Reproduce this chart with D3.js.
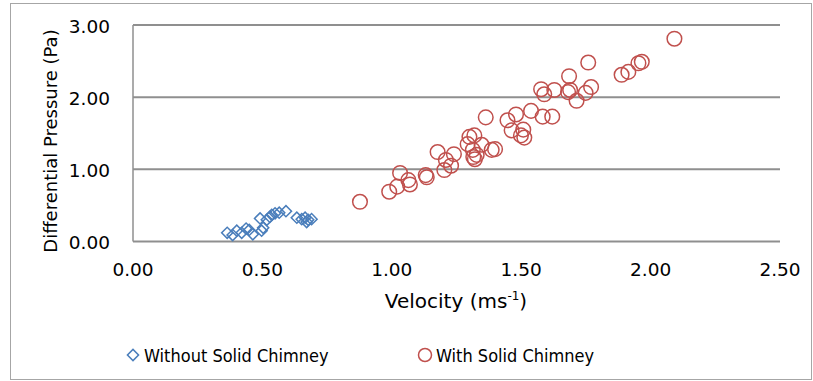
<!DOCTYPE html>
<html>
<head>
<meta charset="utf-8">
<script src="https://cdn.jsdelivr.net/npm/d3@7"></script>
<style>
  body { margin: 0; background: #fff; }
  svg text { font-family: "DejaVu Sans", Verdana, sans-serif; fill: #000; }
</style>
</head>
<body>
<div id="chart-body"></div>
<script>
'use strict';

// series: without solid chimney (blue diamonds)
var withoutVel = [0.364, 0.385, 0.401, 0.420, 0.437, 0.449, 0.463, 0.497, 0.503, 0.491, 0.517,
  0.529, 0.536, 0.549, 0.565, 0.591, 0.633, 0.652, 0.665, 0.677, 0.690, 0.671];
var withoutDP = [0.12, 0.09, 0.15, 0.12, 0.18, 0.16, 0.10, 0.15, 0.19, 0.32, 0.30,
  0.34, 0.37, 0.39, 0.40, 0.42, 0.33, 0.31, 0.33, 0.30, 0.31, 0.27];

// series: with solid chimney (red circles)
var withVel = [0.877, 0.990, 1.021, 1.032, 1.064, 1.070, 1.131, 1.135, 1.177, 1.203, 1.209,
  1.229, 1.240, 1.293, 1.300, 1.319, 1.313, 1.315, 1.321, 1.328, 1.347, 1.363, 1.386, 1.399,
  1.447, 1.463, 1.480, 1.499, 1.508, 1.512, 1.538, 1.577, 1.589, 1.583, 1.620, 1.628, 1.685,
  1.689, 1.681, 1.714, 1.749, 1.770, 1.759, 1.888, 1.914, 1.953, 1.966, 2.092];
var withDP = [0.55, 0.69, 0.76, 0.95, 0.85, 0.79, 0.92, 0.89, 1.24, 0.99, 1.13,
  1.05, 1.21, 1.35, 1.45, 1.47, 1.27, 1.17, 1.14, 1.20, 1.34, 1.72, 1.27, 1.28,
  1.68, 1.54, 1.76, 1.47, 1.55, 1.44, 1.81, 2.11, 2.04, 1.73, 1.73, 2.10, 2.29,
  2.10, 2.07, 1.95, 2.06, 2.14, 2.48, 2.31, 2.35, 2.47, 2.49, 2.81];

var xTicks = [0, 0.5, 1, 1.5, 2, 2.5];
var yTicks = [0, 1, 2, 3];
var seriesNames = ["Without Solid Chimney", "With Solid Chimney"];

var blue = "#4a7ebb", red = "#c0504d", grid = "#8f8f8f";
var W = 813, H = 381;
var margin = { top: 25, right: 33, bottom: 139.5, left: 133 };

var svg = d3.select("#chart-body").append("svg")
  .attr("width", W)
  .attr("height", H);

// outer chart frame
svg.append("rect")
  .attr("x", 10.5).attr("y", 3.5)
  .attr("width", 801).attr("height", 376)
  .attr("fill", "none")
  .attr("stroke", "#a6a6a6");

var x = d3.scaleLinear().domain([0, 2.5]).range([margin.left, W - margin.right]);
var y = d3.scaleLinear().domain([0, 3]).range([H - margin.bottom, margin.top]);

// horizontal gridlines
svg.append("g").selectAll("line")
  .data(yTicks)
  .enter().append("line")
  .attr("x1", x(0)).attr("x2", x(2.5))
  .attr("y1", function (d) { return y(d); })
  .attr("y2", function (d) { return y(d); })
  .attr("stroke", grid)
  .attr("stroke-width", 2);

// y axis line
svg.append("line")
  .attr("x1", x(0)).attr("x2", x(0))
  .attr("y1", y(0)).attr("y2", y(3))
  .attr("stroke", grid)
  .attr("stroke-width", 1.5);

// tick labels
svg.append("g").selectAll("text")
  .data(yTicks)
  .enter().append("text")
  .attr("x", 110)
  .attr("y", function (d) { return y(d) + 7.5; })
  .attr("text-anchor", "end")
  .style("font-size", "18.5px")
  .text(function (d) { return d3.format(".2f")(d); });

svg.append("g").selectAll("text")
  .data(xTicks)
  .enter().append("text")
  .attr("x", function (d) { return x(d); })
  .attr("y", 276)
  .attr("text-anchor", "middle")
  .style("font-size", "18.5px")
  .text(function (d) { return d3.format(".2f")(d); });

// axis titles
svg.append("text")
  .attr("transform", "translate(57," + 141 + ") rotate(-90)")
  .attr("text-anchor", "middle")
  .style("font-size", "18px")
  .text("Differential Pressure (Pa)");

var xt = svg.append("text")
  .attr("x", 456).attr("y", 308)
  .attr("text-anchor", "middle")
  .style("font-size", "20px");
xt.append("tspan").text("Velocity (ms");
xt.append("tspan").attr("dy", -8).style("font-size", "12px").text("-1");
xt.append("tspan").attr("dy", 8).text(")");

// points
var diamond = d3.symbol().type(d3.symbolSquare).size(62);

svg.append("g").selectAll("path")
  .data(d3.range(withoutVel.length))
  .enter().append("path")
  .attr("d", diamond)
  .attr("transform", function (i) {
    return "translate(" + x(withoutVel[i]) + "," + y(withoutDP[i]) + ") rotate(45)";
  })
  .attr("fill", "none")
  .attr("stroke", blue)
  .attr("stroke-width", 1.5);

svg.append("g").selectAll("circle")
  .data(d3.range(withVel.length))
  .enter().append("circle")
  .attr("cx", function (i) { return x(withVel[i]); })
  .attr("cy", function (i) { return y(withDP[i]); })
  .attr("r", 7.3)
  .attr("fill", "none")
  .attr("stroke", red)
  .attr("stroke-width", 1.5);

// legend
var legend = svg.append("g");
var lx = [133, 425];
legend.append("path")
  .attr("d", diamond)
  .attr("transform", "translate(" + lx[0] + ",355) rotate(45)")
  .attr("fill", "none").attr("stroke", blue).attr("stroke-width", 1.5);
legend.append("circle")
  .attr("cx", lx[1]).attr("cy", 355).attr("r", 6.5)
  .attr("fill", "none").attr("stroke", red).attr("stroke-width", 1.5);
legend.selectAll("text")
  .data(seriesNames)
  .enter().append("text")
  .attr("x", function (d, i) { return lx[i] + 11; })
  .attr("y", 362)
  .style("font-size", "18px")
  .style("font-stretch", "condensed")
  .text(function (d) { return d; });
</script>
</body>
</html>
